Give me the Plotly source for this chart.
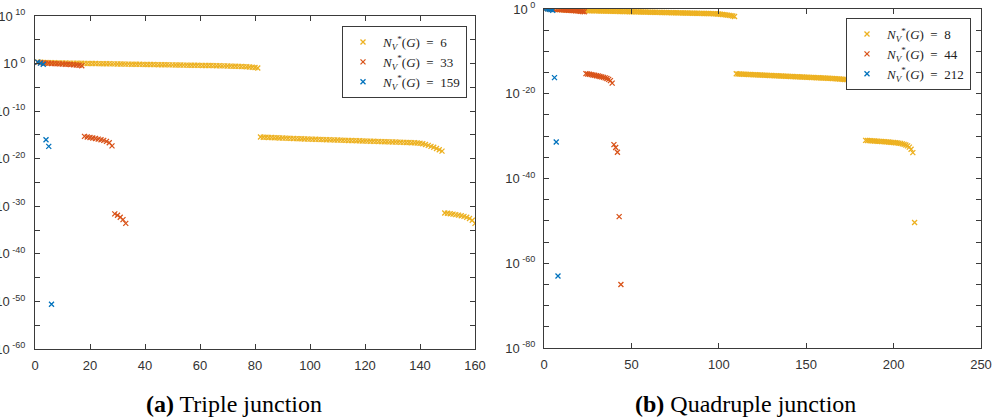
import plotly.graph_objects as go

# ---------------- data (log10 of values) ----------------
# Panel (a) Triple junction
a_yellow_log = [
    0.32, 0.27, 0.24, 0.21, 0.19, 0.17, 0.16, 0.14, 0.13, 0.12,
    0.11, 0.10, 0.09, 0.08, 0.07, 0.06, 0.05, 0.04, 0.03, 0.02,
    0.01, 0.00, -0.01, -0.02, -0.03, -0.04, -0.05, -0.06, -0.07, -0.08,
    -0.09, -0.10, -0.11, -0.12, -0.13, -0.14, -0.15, -0.16, -0.17, -0.18,
    -0.19, -0.20, -0.21, -0.22, -0.23, -0.24, -0.25, -0.26, -0.27, -0.28,
    -0.29, -0.30, -0.31, -0.32, -0.33, -0.34, -0.35, -0.36, -0.37, -0.38,
    -0.39, -0.40, -0.41, -0.42, -0.43, -0.45, -0.46, -0.48, -0.49, -0.51,
    -0.53, -0.55, -0.57, -0.59, -0.62, -0.65, -0.68, -0.72, -0.77, -0.83, -0.92,
    -15.45, -15.48, -15.50, -15.53, -15.55, -15.58, -15.60, -15.63, -15.65, -15.68,
    -15.70, -15.73, -15.75, -15.78, -15.80, -15.82, -15.84, -15.86, -15.88, -15.90,
    -15.92, -15.94, -15.96, -15.98, -16.00, -16.02, -16.04, -16.06, -16.08, -16.10,
    -16.12, -16.14, -16.16, -16.18, -16.20, -16.22, -16.24, -16.26, -16.28, -16.30,
    -16.32, -16.34, -16.36, -16.38, -16.40, -16.42, -16.44, -16.46, -16.48, -16.50,
    -16.52, -16.54, -16.56, -16.58, -16.60, -16.63, -16.66, -16.70, -16.75,
    -16.85, -17.00, -17.20, -17.40, -17.60, -17.85, -18.10, -18.40,
    -31.40, -31.48, -31.56, -31.65, -31.75, -31.86, -31.98, -32.12, -32.30, -32.55,
    -32.95, -33.60,
]
a_orange_log = [
    0.25, 0.18, 0.13, 0.09, 0.05, 0.02, -0.01, -0.04, -0.07, -0.10,
    -0.13, -0.16, -0.20, -0.24, -0.29, -0.35, -0.45,
    -15.30, -15.42, -15.54, -15.65, -15.76, -15.88, -16.00, -16.15, -16.35, -16.65, -17.30,
    -31.60, -31.90, -32.30, -32.80, -33.60,
]
a_blue_log = [0.30, 0.10, -0.15, -16.0, -17.4, -50.6]

# Panel (b) Quadruple junction
b_yellow_log = [
    0.20, 0.12, 0.07, 0.03, 0.00, -0.03, -0.06, -0.08, -0.10, -0.12,
    -0.14, -0.16, -0.18, -0.20, -0.22, -0.24, -0.26, -0.28, -0.30, -0.32,
    -0.34, -0.36, -0.37, -0.38, -0.39, -0.40, -0.41, -0.42, -0.43, -0.44,
    -0.45, -0.46, -0.47, -0.48, -0.49, -0.50, -0.51, -0.52, -0.53, -0.54,
    -0.55, -0.56, -0.57, -0.58, -0.59, -0.60, -0.61, -0.62, -0.63, -0.64,
    -0.65, -0.66, -0.67, -0.68, -0.69, -0.70, -0.71, -0.72, -0.73, -0.74,
    -0.75, -0.76, -0.77, -0.78, -0.79, -0.80, -0.81, -0.82, -0.83, -0.84,
    -0.85, -0.86, -0.87, -0.88, -0.89, -0.90, -0.91, -0.92, -0.93, -0.94,
    -0.95, -0.96, -0.97, -0.98, -0.99, -1.00, -1.01, -1.02, -1.03, -1.04,
    -1.05, -1.06, -1.07, -1.08, -1.09, -1.10, -1.12, -1.14, -1.16, -1.19,
    -1.23, -1.28, -1.33, -1.38, -1.44, -1.50, -1.57, -1.65, -1.75,
    -15.30, -15.32, -15.34, -15.36, -15.38, -15.40, -15.42, -15.44, -15.46, -15.48,
    -15.50, -15.52, -15.54, -15.56, -15.58, -15.60, -15.62, -15.64, -15.66, -15.68,
    -15.70, -15.72, -15.74, -15.76, -15.78, -15.80, -15.82, -15.84, -15.86, -15.88,
    -15.90, -15.92, -15.94, -15.96, -15.98, -16.00, -16.02, -16.04, -16.06, -16.08,
    -16.10, -16.12, -16.14, -16.16, -16.18, -16.20, -16.22, -16.24, -16.26, -16.28,
    -16.30, -16.32, -16.34, -16.36, -16.38, -16.40, -16.43, -16.46, -16.49, -16.52,
    -16.55, -16.58, -16.62, -16.66, -16.70, -16.75, -16.80, -16.86, -16.93, -17.00,
    -17.08, -17.17, -17.28, -17.42,
    -31.00, -31.03, -31.06, -31.09, -31.12, -31.15, -31.18, -31.21, -31.24, -31.27,
    -31.30, -31.33, -31.36, -31.40, -31.44, -31.48, -31.52, -31.56, -31.60, -31.65,
    -31.72, -31.82, -31.95, -32.10, -32.30, -32.60, -33.10, -33.90,
    -50.40,
]
b_orange_log = [
    0.20, 0.12, 0.06, 0.02, -0.02, -0.05, -0.08, -0.11, -0.14, -0.17,
    -0.20, -0.23, -0.26, -0.29, -0.32, -0.35, -0.38, -0.41, -0.44, -0.48,
    -0.52, -0.57, -0.63,
    -15.25, -15.33, -15.41, -15.49, -15.57, -15.65, -15.74, -15.83, -15.92, -16.02,
    -16.13, -16.25, -16.40, -16.60, -16.90, -17.50,
    -32.00, -32.70, -33.80,
    -49.0, -65.0,
]
b_blue_log = [0.15, 0.05, -0.05, -0.15, -0.30, -16.2, -31.4, -63.0]

LBL = "<i>N</i><sub><i>V</i></sub><sup>*</sup>(<i>G</i>)&#160;&#160;=&#160;&#160;%s"
a_labels = [LBL % "6", LBL % "33", LBL % "159"]
b_labels = [LBL % "8", LBL % "44", LBL % "212"]

a_xticks = [0, 20, 40, 60, 80, 100, 120, 140, 160]
b_xticks = [0, 50, 100, 150, 200, 250]
a_ydec = list(range(10, -61, -5))
b_ydec = list(range(0, -81, -5))

YELLOW = "#EDB120"
ORANGE = "#D95319"
BLUE = "#0072BD"
AXC = "#3a3a3a"

fig = go.Figure()


def add(vals_log, color, name, xa, ya, legend):
    xs = list(range(1, len(vals_log) + 1))
    ys = [10 ** v for v in vals_log]
    fig.add_trace(go.Scatter(
        x=xs, y=ys, mode="markers", name=name,
        xaxis=xa, yaxis=ya, legend=legend,
        marker=dict(symbol="x-thin", size=5, color=color,
                    line=dict(width=1.3, color=color)),
    ))


add(a_yellow_log, YELLOW, a_labels[0], "x", "y", "legend")
add(a_orange_log, ORANGE, a_labels[1], "x", "y", "legend")
add(a_blue_log, BLUE, a_labels[2], "x", "y", "legend")
add(b_yellow_log, YELLOW, b_labels[0], "x2", "y2", "legend2")
add(b_orange_log, ORANGE, b_labels[1], "x2", "y2", "legend2")
add(b_blue_log, BLUE, b_labels[2], "x2", "y2", "legend2")


def ylabels(decs, every):
    out = []
    for d in decs:
        if d % every == 0:
            out.append("10<sup>&#160;%d</sup>" % d)
        else:
            out.append("")
    return out


W, H = 994, 420
TICKFONT = dict(family="Liberation Sans, Arial", size=13, color="#333333")
axis_common = dict(showline=True, linecolor=AXC, linewidth=1, mirror="ticks",
                   ticks="inside", ticklen=5, tickcolor=AXC, showgrid=False,
                   zeroline=False, automargin=False, tickfont=TICKFONT)

LEGFONT = dict(family="Liberation Serif, Times New Roman", size=13, color="#222222")

fig.update_layout(
    width=W, height=H,
    margin=dict(l=0, r=0, t=0, b=0),
    paper_bgcolor="white", plot_bgcolor="white",
    template="none",
    xaxis=dict(domain=[35 / W, 475 / W], range=[0, 160], tickvals=a_xticks,
               anchor="y", ticklabelstandoff=4, **axis_common),
    yaxis=dict(domain=[(H - 349) / H, (H - 16) / H], type="log", range=[-60, 10],
               tickvals=[10.0 ** d for d in a_ydec], ticktext=ylabels(a_ydec, 10),
               anchor="x", ticklabelstandoff=6, **axis_common),
    xaxis2=dict(domain=[544 / W, 981 / W], range=[0, 250], tickvals=b_xticks,
                anchor="y2", ticklabelstandoff=4, **axis_common),
    yaxis2=dict(domain=[(H - 348) / H, (H - 9) / H], type="log", range=[-80, 0],
                tickvals=[10.0 ** d for d in b_ydec], ticktext=ylabels(b_ydec, 20),
                anchor="x2", ticklabelstandoff=5, **axis_common),
    legend=dict(x=467 / W, y=(H - 26) / H, xanchor="right", yanchor="top",
                bgcolor="white", bordercolor=AXC, borderwidth=1,
                font=LEGFONT, tracegroupgap=0, itemwidth=30),
    legend2=dict(x=971 / W, y=(H - 18) / H, xanchor="right", yanchor="top",
                 bgcolor="white", bordercolor=AXC, borderwidth=1,
                 font=LEGFONT, tracegroupgap=0, itemwidth=30),
    showlegend=True,
    annotations=[
        dict(text="<b>(a)</b> Triple junction", x=234 / W, y=(H - 404) / H,
             xref="paper", yref="paper", showarrow=False, xanchor="center", yanchor="middle",
             font=dict(family="Liberation Serif, Times New Roman", size=24, color="black")),
        dict(text="<b>(b)</b> Quadruple junction", x=745 / W, y=(H - 404) / H,
             xref="paper", yref="paper", showarrow=False, xanchor="center", yanchor="middle",
             font=dict(family="Liberation Serif, Times New Roman", size=24, color="black")),
    ],
)

fig.write_html("out.html")
